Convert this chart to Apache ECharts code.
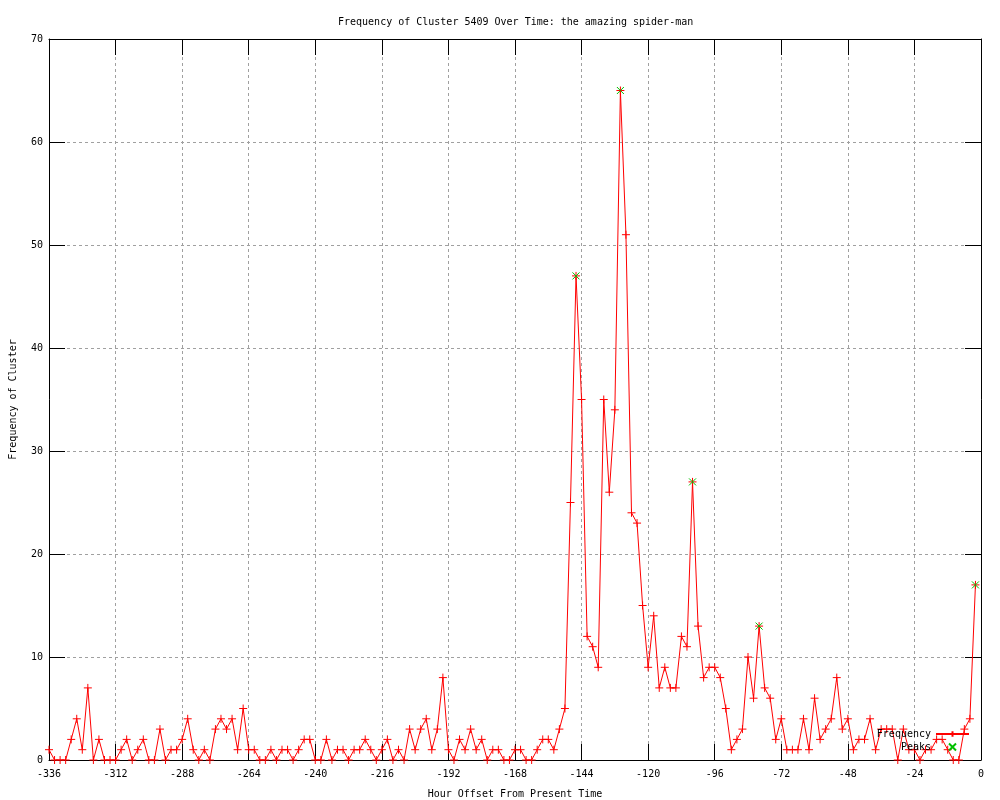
<!DOCTYPE html>
<html>
<head>
<meta charset="utf-8">
<script src="https://cdn.jsdelivr.net/npm/echarts@6/dist/echarts.min.js"></script>
<style>html,body{margin:0;padding:0;background:#fff}#c{width:1000px;height:800px}</style>
</head>
<body>
<div id="c"></div>
<script>
// Frequency every 2 hours, starting at hour -336
const startHour = -336;
const stepHours = 2;
const frequency = [
  1,0,0,0,2,4,1,7,0,2, 0,0,0,1,2,0,1,2,0,0,
  3,0,1,1,2,4,1,0,1,0, 3,4,3,4,1,5,1,1,0,0,
  1,0,1,1,0,1,2,2,0,0, 2,0,1,1,0,1,1,2,1,0,
  1,2,0,1,0,3,1,3,4,1, 3,8,1,0,2,1,3,1,2,0,
  1,1,0,0,1,1,0,0,1,2, 2,1,3,5,25,47,35,12,11,9,
  35,26,34,65,51,24,23,15,9,14, 7,9,7,7,12,11,27,13,8,9,
  9,8,5,1,2,3,10,6,13,7, 6,2,4,1,1,1,4,1,6,2,
  3,4,8,3,4,1,2,2,4,1, 3,3,3,0,3,1,1,0,1,1,
  2,2,1,0,0,3,4,17
];
const peakHours = [-146, -130, -104, -80, -2];
const peakValues = [47, 65, 27, 13, 17];
const xTicks = { min: -336, max: 0, interval: 24 };
const yTicks = { min: 0, max: 70, interval: 10 };

const freqData = frequency.map((v, i) => [startHour + stepHours * i, v]);
const peakData = peakHours.map((h, i) => [h, peakValues[i]]);

const FONT = 'DejaVu Sans Mono';
const plus = 'path://M0,5L10,5M5,0L5,10';
const cross = 'path://M0,0L10,10M10,0L0,10';
const gridLine = { show: true, lineStyle: { color: '#a0a0a0', type: [3, 3], width: 1 } };
const axisLine = { show: true, onZero: false, lineStyle: { color: '#000', width: 1 } };
const tick = { show: true, inside: true, length: 16, lineStyle: { color: '#000', width: 1 } };
const lbl = { color: '#000', fontFamily: FONT, fontSize: 10 };

const chart = echarts.init(document.getElementById('c'), null, { renderer: 'canvas' });
chart.setOption({
  animation: false,
  backgroundColor: '#fff',
  title: {
    text: 'Frequency of Cluster 5409 Over Time: the amazing spider-man',
    left: 333, top: 12,
    textStyle: { fontFamily: FONT, fontSize: 10, fontWeight: 'normal', color: '#000' }
  },
  legend: {
    data: ['Frequency', 'Peaks'],
    orient: 'vertical', align: 'right',
    right: 30, top: 729,
    itemWidth: 33, itemHeight: 7, itemGap: 2, padding: 0,
    textStyle: { fontFamily: FONT, fontSize: 10, color: '#000' },
    selectedMode: false
  },
  grid: { left: 49, right: 19, top: 39, bottom: 40, containLabel: false, outerBoundsMode: 'none' },
  xAxis: [{
    type: 'value', position: 'bottom', min: xTicks.min, max: xTicks.max, interval: xTicks.interval,
    name: 'Hour Offset From Present Time', nameLocation: 'middle', nameGap: 29,
    nameTextStyle: lbl,
    axisLine: axisLine, axisTick: tick, splitLine: gridLine,
    axisLabel: Object.assign({ margin: 9, showMinLabel: true, showMaxLabel: true }, lbl)
  }, {
    type: 'value', position: 'top', min: xTicks.min, max: xTicks.max, interval: xTicks.interval,
    axisLine: axisLine, axisTick: tick, splitLine: { show: false }, axisLabel: { show: false }
  }],
  yAxis: [{
    type: 'value', position: 'left', min: yTicks.min, max: yTicks.max, interval: yTicks.interval,
    name: 'Frequency of Cluster', nameLocation: 'middle', nameGap: 31, nameRotate: 90,
    nameTextStyle: lbl,
    axisLine: axisLine, axisTick: tick, splitLine: gridLine,
    axisLabel: Object.assign({ margin: 6 }, lbl)
  }, {
    type: 'value', position: 'right', min: yTicks.min, max: yTicks.max, interval: yTicks.interval,
    axisLine: axisLine, axisTick: tick, splitLine: { show: false }, axisLabel: { show: false }
  }],
  series: [{
    name: 'Frequency', type: 'line', data: freqData,
    showAllSymbol: true, symbol: plus, symbolSize: 8, clip: true,
    lineStyle: { color: '#ff0000', width: 1 },
    itemStyle: { color: '#ff0000', borderColor: '#ff0000', borderWidth: 1 },
    emphasis: { disabled: true }, z: 2
  }, {
    name: 'Peaks', type: 'scatter', data: peakData,
    symbol: cross, symbolSize: 7, clip: true,
    itemStyle: { color: 'none', borderColor: '#00c000', borderWidth: 1, opacity: 1 },
    emphasis: { disabled: true }, z: 3
  }]
});
</script>
</body>
</html>
